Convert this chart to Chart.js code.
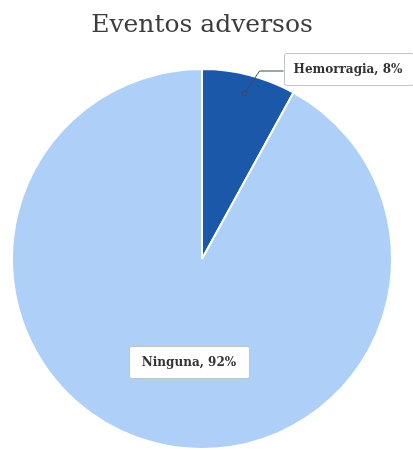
<!DOCTYPE html>
<html>
<head>
<meta charset="utf-8">
<script src="https://cdn.jsdelivr.net/npm/chart.js@4"></script>
<style>
  html, body { margin: 0; padding: 0; background: #fff; }
  #wrap { width: 413px; height: 450px; position: relative; }
</style>
</head>
<body>
<div id="wrap"><canvas id="chart"></canvas></div>
<script>
const labels = ["Hemorragia", "Ninguna"];
const values = [8, 92];
const colors = ["#1b58a9", "#aed0f8"];

// where each callout box sits, relative to the pie centre
const calloutPos = [
  { dx: 146, dy: -190, pad: 20, leader: true },
  { dx: -13, dy: 103, pad: 26, leader: false }
];

const calloutPlugin = {
  id: "callouts",
  afterDatasetsDraw(chart) {
    const ctx = chart.ctx;
    const meta = chart.getDatasetMeta(0);
    const total = values.reduce((a, b) => a + b, 0);
    ctx.save();
    ctx.font = "bold 12px 'DejaVu Serif'";
    ctx.textAlign = "center";
    ctx.textBaseline = "middle";
    meta.data.forEach((arc, i) => {
      const p = arc.getProps(["x", "y", "startAngle", "endAngle", "outerRadius"], true);
      const text = labels[i] + ", " + Math.round(values[i] / total * 100) + "%";
      const w = ctx.measureText(text).width + calloutPos[i].pad;
      const h = 32;
      const cx = p.x + calloutPos[i].dx;
      const cy = p.y + calloutPos[i].dy;
      const left = cx - w / 2;

      if (calloutPos[i].leader) {
        const mid = (p.startAngle + p.endAngle) / 2;
        const ax = p.x + Math.cos(mid) * p.outerRadius * 0.9;
        const ay = p.y + Math.sin(mid) * p.outerRadius * 0.9;
        ctx.strokeStyle = "#3a4a5c";
        ctx.lineWidth = 1;
        ctx.beginPath();
        ctx.moveTo(ax, ay);
        ctx.lineTo(left - 24, cy + 2);
        ctx.lineTo(left, cy + 2);
        ctx.stroke();
        ctx.beginPath();
        ctx.arc(ax, ay, 2.5, 0, Math.PI * 2);
        ctx.fillStyle = colors[i];
        ctx.fill();
        ctx.stroke();
      }

      ctx.fillStyle = "#ffffff";
      ctx.strokeStyle = "#c4c4c4";
      ctx.lineWidth = 1;
      ctx.beginPath();
      ctx.roundRect(Math.round(left) + 0.5, Math.round(cy - h / 2) + 0.5, Math.round(w), h, 2);
      ctx.fill();
      ctx.stroke();

      ctx.fillStyle = "#333333";
      ctx.fillText(text, cx, cy + 1);
    });
    ctx.restore();
  }
};

new Chart(document.getElementById("chart").getContext("2d"), {
  type: "pie",
  data: {
    labels: labels,
    datasets: [{
      data: values,
      backgroundColor: colors,
      borderColor: "#ffffff",
      borderWidth: 2
    }]
  },
  options: {
    responsive: true,
    maintainAspectRatio: false,
    animation: false,
    layout: { padding: { left: 0, right: 9, top: 0, bottom: 0 } },
    plugins: {
      legend: { display: false },
      tooltip: { enabled: false },
      title: {
        display: true,
        text: "Eventos adversos",
        color: "#3c3c3c",
        font: { family: "'DejaVu Serif'", size: 25, weight: "normal" },
        padding: { top: 10, bottom: 28 }
      }
    }
  },
  plugins: [calloutPlugin]
});
</script>
</body>
</html>
